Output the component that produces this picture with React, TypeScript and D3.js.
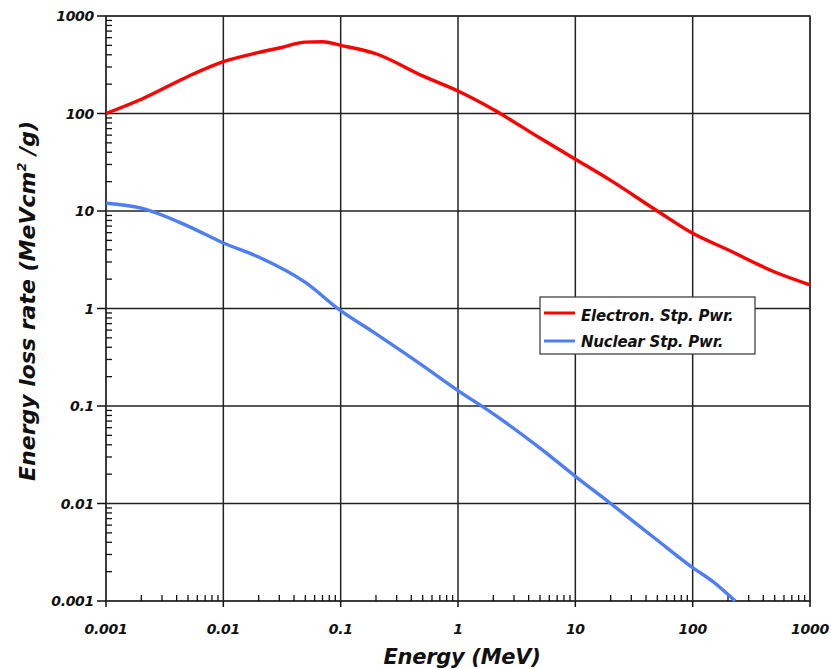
import * as d3 from "d3"
import React from "react"

// energies in MeV and stopping powers in MeV cm2/g
const electronEnergy = [0.001, 0.002, 0.005, 0.01, 0.02, 0.03, 0.05, 0.07, 0.1, 0.2, 0.5, 1, 2, 5, 10, 20, 50, 100, 200, 500, 1000]
const electronPower = [100, 140, 240, 340, 423, 470, 540, 545, 500, 410, 243, 170, 110, 56, 34, 20.6, 10, 5.9, 4.0, 2.37, 1.75]

const nuclearEnergy = [0.001, 0.002, 0.005, 0.01, 0.02, 0.05, 0.1, 0.2, 0.5, 1, 2, 5, 10, 20, 50, 100, 150, 230]
const nuclearPower = [12, 10.7, 7.0, 4.7, 3.37, 1.85, 0.95, 0.55, 0.26, 0.144, 0.083, 0.037, 0.019, 0.01, 0.0042, 0.0022, 0.00157, 0.001]

const xTicks = [0.001, 0.01, 0.1, 1, 10, 100, 1000]
const xTickLabels = ["0.001", "0.01", "0.1", "1", "10", "100", "1000"]
const yTicks = [0.001, 0.01, 0.1, 1, 10, 100, 1000]
const yTickLabels = ["0.001", "0.01", "0.1", "1", "10", "100", "1000"]

const seriesNames = ["Electron. Stp. Pwr.", "Nuclear Stp. Pwr."]
const seriesColors = ["#ff0000", "#4d7ef3"]

const width = 831
const height = 669
const margin = { top: 16, right: 21, bottom: 68, left: 106 }

const font = "'DejaVu Sans', Verdana, sans-serif"

export default function App() {
    const x = d3.scaleLog([0.001, 1000], [margin.left, width - margin.right])
    const y = d3.scaleLog([0.001, 1000], [height - margin.bottom, margin.top])

    const line = d3.line<[number, number]>()
        .x(d => x(d[0]))
        .y(d => y(d[1]))
        .curve(d3.curveMonotoneX)

    const electron = electronEnergy.map((e, i) => [e, electronPower[i]] as [number, number])
    const nuclear = nuclearEnergy.map((e, i) => [e, nuclearPower[i]] as [number, number])

    // minor ticks: 2..9 within each decade
    const minors: number[] = []
    for (let k = 0; k < 6; k++) {
        for (let m = 2; m < 10; m++) minors.push(m * Math.pow(10, k - 3))
    }

    const x0 = margin.left
    const x1 = width - margin.right
    const y0 = height - margin.bottom
    const y1 = margin.top

    const legX = 540
    const legY = 297

    return (
        <svg width={width} height={height} style={{ position: "absolute", left: 0, top: 0, background: "#fff" }}>
            {/* grid */}
            {xTicks.map((t, i) => (
                <line key={"gx" + i} x1={x(t)} x2={x(t)} y1={y1} y2={y0} stroke="#222" strokeWidth={1.5} />
            ))}
            {yTicks.map((t, i) => (
                <line key={"gy" + i} x1={x0} x2={x1} y1={y(t)} y2={y(t)} stroke="#222" strokeWidth={1.5} />
            ))}
            {/* frame */}
            <rect x={x0} y={y1} width={x1 - x0} height={y0 - y1} fill="none" stroke="#333" strokeWidth={1.5} />

            {/* minor ticks, inside */}
            {minors.map((t, i) => (
                <line key={"mx" + i} x1={x(t)} x2={x(t)} y1={y0} y2={y0 - 6} stroke="#111" strokeWidth={1.3} />
            ))}
            {minors.map((t, i) => (
                <line key={"my" + i} x1={x0} x2={x0 + 6} y1={y(t)} y2={y(t)} stroke="#111" strokeWidth={1.3} />
            ))}
            {/* major ticks, outside */}
            {xTicks.map((t, i) => (
                <line key={"tx" + i} x1={x(t)} x2={x(t)} y1={y0} y2={y0 + 6} stroke="#111" strokeWidth={1.5} />
            ))}
            {yTicks.map((t, i) => (
                <line key={"ty" + i} x1={x0 - 9} x2={x0} y1={y(t)} y2={y(t)} stroke="#111" strokeWidth={1.5} />
            ))}

            {/* curves */}
            <path d={line(electron) ?? ""} fill="none" stroke={seriesColors[0]} strokeWidth={3.4} />
            <path d={line(nuclear) ?? ""} fill="none" stroke={seriesColors[1]} strokeWidth={3.4} />

            {/* tick labels */}
            <g fontFamily={font} fontWeight="bold" fontStyle="italic" fontSize={14} fill="#111" letterSpacing={-0.3}>
                {xTicks.map((t, i) => (
                    <text key={"lx" + i} x={x(t)} y={634} textAnchor="middle">{xTickLabels[i]}</text>
                ))}
                {yTicks.map((t, i) => (
                    <text key={"ly" + i} x={94} y={y(t) + 5} textAnchor="end">{yTickLabels[i]}</text>
                ))}
            </g>

            {/* axis titles */}
            <text x={462} y={664} textAnchor="middle" fontFamily={font} fontWeight="bold" fontStyle="italic"
                fontSize={21} letterSpacing={-0.3} fill="#111">Energy (MeV)</text>
            <text transform={`translate(35, 301) rotate(-90)`} textAnchor="middle" fontFamily={font} fontWeight="bold"
                fontStyle="italic" fontSize={22} fill="#111">
                Energy loss rate (MeVcm<tspan dy={-9} fontSize={13}>2</tspan><tspan dy={9}> /g)</tspan>
            </text>

            {/* legend */}
            <rect x={legX} y={legY} width={215} height={57} fill="#fff" stroke="#333" strokeWidth={1.2} />
            {seriesNames.map((n, i) => (
                <g key={"lg" + i}>
                    <line x1={legX + 4} x2={legX + 35} y1={legY + 16 + i * 28} y2={legY + 16 + i * 28}
                        stroke={seriesColors[i]} strokeWidth={3} />
                    <text x={legX + 41} y={legY + 24 + i * 26} fontFamily={font} fontWeight="bold" fontStyle="italic"
                        fontSize={15} letterSpacing={-0.2} fill="#111">{n}</text>
                </g>
            ))}
        </svg>
    )
}
